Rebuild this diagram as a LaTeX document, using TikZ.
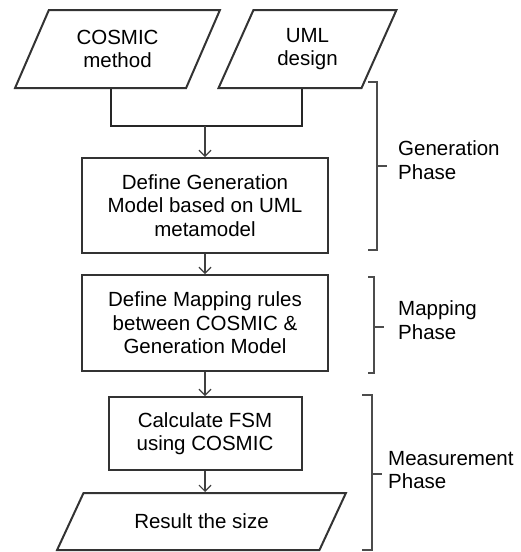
\documentclass[tikz,border=0pt]{standalone}
\usepackage{fontspec}
\setmainfont{Liberation Sans}
\usetikzlibrary{shapes.geometric,arrows.meta}
\tikzset{
  io/.style={trapezium,trapezium stretches=true,draw=black!80,line width=2pt,align=center,inner sep=0pt},
  proc/.style={rectangle,draw=black!80,line width=2pt,align=center,inner sep=0pt},
  flow/.style={draw=black!75,line width=2pt,-{Straight Barb[length=6pt,width=12pt,line width=1.2pt]}},
  brk/.style={draw=black!70,line width=2pt},
  phase/.style={anchor=west,align=left,inner sep=0pt}
}
\begin{document}
\begin{tikzpicture}[x=1pt,y=-1pt,font=\fontsize{20.5}{23.5}\selectfont]
\useasboundingbox (0,0) rectangle (520,552);

\node[io,trapezium left angle=62,trapezium right angle=118,minimum width=205,minimum height=78] (cosmic) at (117.5,49) {COSMIC\\method};
\node[io,trapezium left angle=65,trapezium right angle=115,minimum width=179,minimum height=78] (uml) at (307.5,49) {UML\\design};
\node[proc,minimum width=246,minimum height=95] (genmodel) at (205,205.5) {Define Generation\\Model based on UML\\metamodel};
\node[proc,minimum width=246,minimum height=96] (maprules) at (205,323) {Define Mapping rules\\between COSMIC \&\\Generation Model};
\node[proc,minimum width=193,minimum height=73] (calcfsm) at (205,433.5) {Calculate FSM\\using COSMIC};
\node[io,trapezium left angle=45,trapezium right angle=135,minimum width=289,minimum height=57] (result) at (201.5,521.5) {Result the size};
\coordinate (join) at (205,126);

\node[phase] (genphase) at (398,160) {Generation\\Phase};
\node[phase] (mapphase) at (398,320) {Mapping\\Phase};
\node[phase] (measphase) at (388,470) {Measurement\\Phase};

\draw[draw=black!85,line width=2pt] ([xshift=-7pt]cosmic.south) |- (join) -| ([xshift=-6pt]uml.south);
\draw[flow] (join) -- (genmodel.north);
\draw[flow] (genmodel.south) -- (maprules.north);
\draw[flow] (maprules.south) -- (calcfsm.north);
\draw[flow] (calcfsm.south) -- (calcfsm.south |- result.north);

\draw[brk] (368,82) -- (377,82) -- (377,250) -- (368,250);
\draw[brk] (377,166) -- (387,166);
\draw[brk] (368,277) -- (374,277) -- (374,373) -- (368,373);
\draw[brk] (374,327) -- (384,327);
\draw[brk] (362,395) -- (372,395) -- (372,550) -- (362,550);
\draw[brk] (372,474) -- (382,474);
\end{tikzpicture}
\end{document}
